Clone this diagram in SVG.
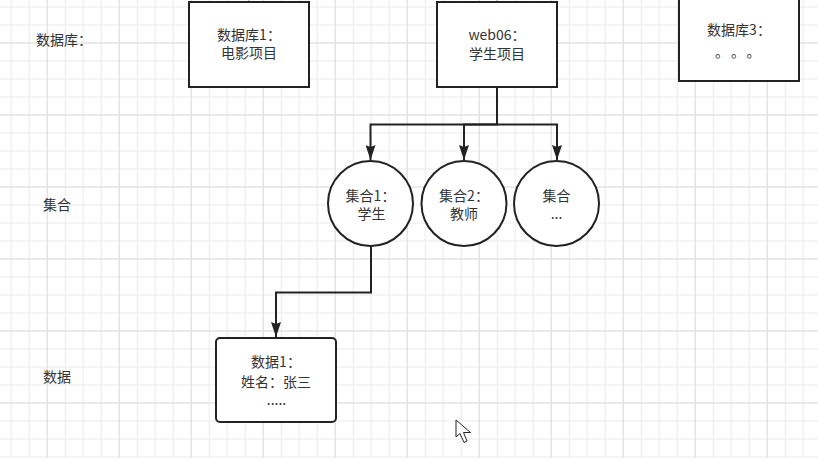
<svg xmlns="http://www.w3.org/2000/svg" width="818" height="458" viewBox="0 0 818 458">
<style>
  .lbl { font-family: "Noto Sans CJK SC", "Liberation Sans", sans-serif; font-size: 14px; fill: #333; }
  .mid { text-anchor: middle; }
  .shape { fill: #fff; stroke: #222; stroke-width: 2; }
  .edge { fill: none; stroke: #222; stroke-width: 2; }
</style>
<defs>
  <pattern id="minor" patternUnits="userSpaceOnUse" x="10.7" y="6.5" width="18" height="18">
    <path d="M0.5 0 V18 M0 0.5 H18" stroke="#ebebeb" stroke-width="1" fill="none"/>
  </pattern>
  <pattern id="major" patternUnits="userSpaceOnUse" x="46.7" y="42.5" width="72" height="72">
    <path d="M0.5 0 V72 M0 0.5 H72" stroke="#dedede" stroke-width="1" fill="none"/>
  </pattern>
  <marker id="arrow" markerUnits="userSpaceOnUse" markerWidth="16" markerHeight="10" refX="15" refY="5" orient="auto" viewBox="0 0 16 10">
    <path d="M0 0 L15 5 L0 10 L2 5 Z" fill="#222"/>
  </marker>
</defs>
<rect width="818" height="458" fill="#fff"/>
<rect width="818" height="458" fill="url(#minor)"/>
<rect width="818" height="458" fill="url(#major)"/>

<g id="labels">
  <text class="lbl" x="36" y="45">数据库：</text>
  <text class="lbl" x="43" y="210">集合</text>
  <text class="lbl" x="43" y="382">数据</text>
</g>

<g id="connectors">
  <line x1="249" y1="0" x2="249" y2="2" stroke="#999" stroke-width="1"/>
  <line x1="497" y1="0" x2="497" y2="2" stroke="#999" stroke-width="1"/>
  <path class="edge" d="M497 87 V124.5 H370.5 V160" marker-end="url(#arrow)"/>
  <path class="edge" d="M497 124.5 H464 V160" marker-end="url(#arrow)"/>
  <path class="edge" d="M497 124.5 H557 V160" marker-end="url(#arrow)"/>
  <path class="edge" d="M371 246 V292.5 H276 V337" marker-end="url(#arrow)"/>
</g>

<g id="db1">
  <rect class="shape" x="189" y="2" width="120" height="85"/>
  <text class="lbl mid" x="249" y="40">数据库1：</text>
  <text class="lbl mid" x="249" y="58">电影项目</text>
</g>

<g id="web06">
  <rect class="shape" x="437" y="2" width="120" height="85"/>
  <text class="lbl mid" x="497" y="40">web06：</text>
  <text class="lbl mid" x="497" y="59">学生项目</text>
</g>

<g id="db3">
  <rect class="shape" x="679" y="-5" width="120" height="86"/>
  <text class="lbl mid" x="739" y="35">数据库3：</text>
  <text class="lbl" x="715 731 746.5" y="57" font-size="15">。。。</text>
</g>

<g id="set1">
  <circle class="shape" cx="370.5" cy="203.5" r="42.5"/>
  <text class="lbl mid" x="370.5" y="201">集合1：</text>
  <text class="lbl mid" x="371.5" y="219">学生</text>
</g>

<g id="set2">
  <circle class="shape" cx="464" cy="203.5" r="42.5"/>
  <text class="lbl mid" x="464" y="201">集合2：</text>
  <text class="lbl mid" x="464" y="219">教师</text>
</g>

<g id="set3">
  <circle class="shape" cx="556.5" cy="203.5" r="42.5"/>
  <text class="lbl mid" x="556.5" y="201">集合</text>
  <text class="lbl mid" x="556.5" y="219">...</text>
</g>

<g id="data1">
  <rect class="shape" x="216" y="338" width="120" height="84" rx="4"/>
  <text class="lbl mid" x="276" y="367">数据1：</text>
  <text class="lbl mid" x="276" y="387">姓名：张三</text>
  <text class="lbl mid" x="276.5" y="405">.....</text>
</g>

<g id="cursor">
  <path d="M456 420 L456 437 L460 433.5 L464 442.5 L467 441 L463.5 432.5 L470.5 432.5 Z" fill="#fff" stroke="#222" stroke-width="1" stroke-linejoin="round"/>
</g>
</svg>
